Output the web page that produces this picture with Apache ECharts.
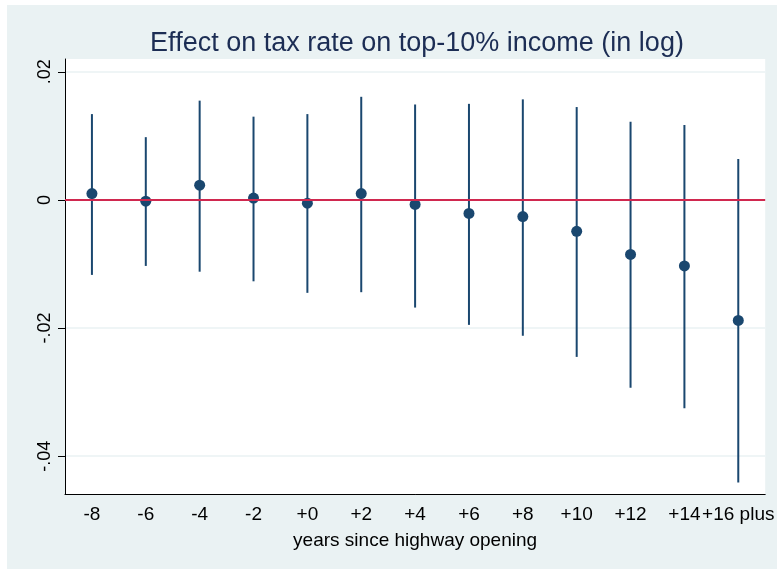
<!DOCTYPE html>
<html>
<head>
<meta charset="utf-8">
<script src="https://cdn.jsdelivr.net/npm/echarts@6/dist/echarts.min.js"></script>
<style>
    html, body { margin: 0; padding: 0; background: #fff; }
    .frame {
        position: absolute;
        left: 7px;
        top: 5px;
        width: 770px;
        height: 564px;
        background: #eaf2f3;
    }
</style>
</head>
<body>
<div class="frame" id="chart"></div>
<script>
// event time labels
const categories = ['-8', '-6', '-4', '-2', '+0', '+2', '+4', '+6', '+8', '+10', '+12', '+14', '+16 plus'];
// point estimates
const estimates = [0.0010, -0.0002, 0.0023, 0.0003, -0.0005, 0.0010, -0.0007, -0.0021, -0.0026, -0.0049, -0.0085, -0.0103, -0.0188];
// confidence interval bounds
const upper = [0.0134, 0.0098, 0.0155, 0.0130, 0.0134, 0.0161, 0.0149, 0.0150, 0.0157, 0.0145, 0.0122, 0.0117, 0.0064];
const lower = [-0.0117, -0.0103, -0.0112, -0.0127, -0.0145, -0.0144, -0.0168, -0.0195, -0.0212, -0.0245, -0.0293, -0.0325, -0.0441];
// y tick labels
const yTicks = [-0.04, -0.02, 0, 0.02];

const font = '"Liberation Sans", Arial, Helvetica, sans-serif';
const navy = '#1a476f';

const chart = echarts.init(document.getElementById('chart'));

const option = {
    backgroundColor: 'transparent',
    animation: false,
    title: {
        text: 'Effect on tax rate on top-10% income (in log)',
        left: 405,
        top: 20,
        textAlign: 'center',
        textStyle: {
            color: '#1c2d54',
            fontFamily: font,
            fontWeight: 'normal',
            fontSize: 27
        }
    },
    grid: {
        left: 58,
        right: 0,
        top: 54,
        bottom: 75,
        show: true,
        backgroundColor: '#fff',
        borderWidth: 0,
        containLabel: false
    },
    xAxis: {
        type: 'category',
        data: categories,
        boundaryGap: true,
        name: 'years since highway opening',
        nameLocation: 'middle',
        nameGap: 37,
        nameTextStyle: { color: '#000', fontFamily: font, fontSize: 19 },
        axisLine: { onZero: false, lineStyle: { color: '#000', width: 1 } },
        axisTick: { alignWithLabel: true, length: 6, lineStyle: { color: '#000' } },
        axisLabel: { color: '#000', fontFamily: font, fontSize: 19, margin: 11, interval: 0 },
        splitLine: { show: false }
    },
    yAxis: {
        type: 'value',
        min: -0.0459,
        max: 0.0220,
        axisLine: { show: true, lineStyle: { color: '#000', width: 1 } },
        axisTick: { show: true, length: 7, customValues: yTicks, lineStyle: { color: '#000' } },
        axisLabel: {
            color: '#000',
            fontFamily: font,
            fontSize: 18,
            rotate: 90,
            margin: 11,
            customValues: yTicks,
            formatter: v => {
                if (Math.abs(v) < 1e-9) return '0';
                return String(Number(v.toFixed(2))).replace('0.', '.');
            }
        },
        splitLine: { show: true, lineStyle: { color: '#eaf2f3', width: 1.5 } }
    },
    series: [
        {
            type: 'custom',
            name: 'ci',
            silent: true,
            z: 2,
            data: categories.map((c, i) => [i, lower[i], upper[i]]),
            encode: { x: 0, y: [1, 2] },
            renderItem: (params, api) => {
                const lo = api.coord([api.value(0), api.value(1)]);
                const hi = api.coord([api.value(0), api.value(2)]);
                return {
                    type: 'line',
                    shape: { x1: lo[0], y1: lo[1], x2: hi[0], y2: hi[1] },
                    style: { stroke: navy, lineWidth: 2 }
                };
            }
        },
        {
            type: 'scatter',
            name: 'estimate',
            z: 3,
            symbol: 'circle',
            symbolSize: 11,
            itemStyle: { color: navy, opacity: 1 },
            data: estimates,
            markLine: {
                silent: true,
                symbol: 'none',
                label: { show: false },
                lineStyle: { color: '#d0284f', width: 2, type: 'solid', opacity: 1 },
                data: [{ yAxis: 0 }]
            }
        }
    ]
};

chart.setOption(option);
</script>
</body>
</html>
